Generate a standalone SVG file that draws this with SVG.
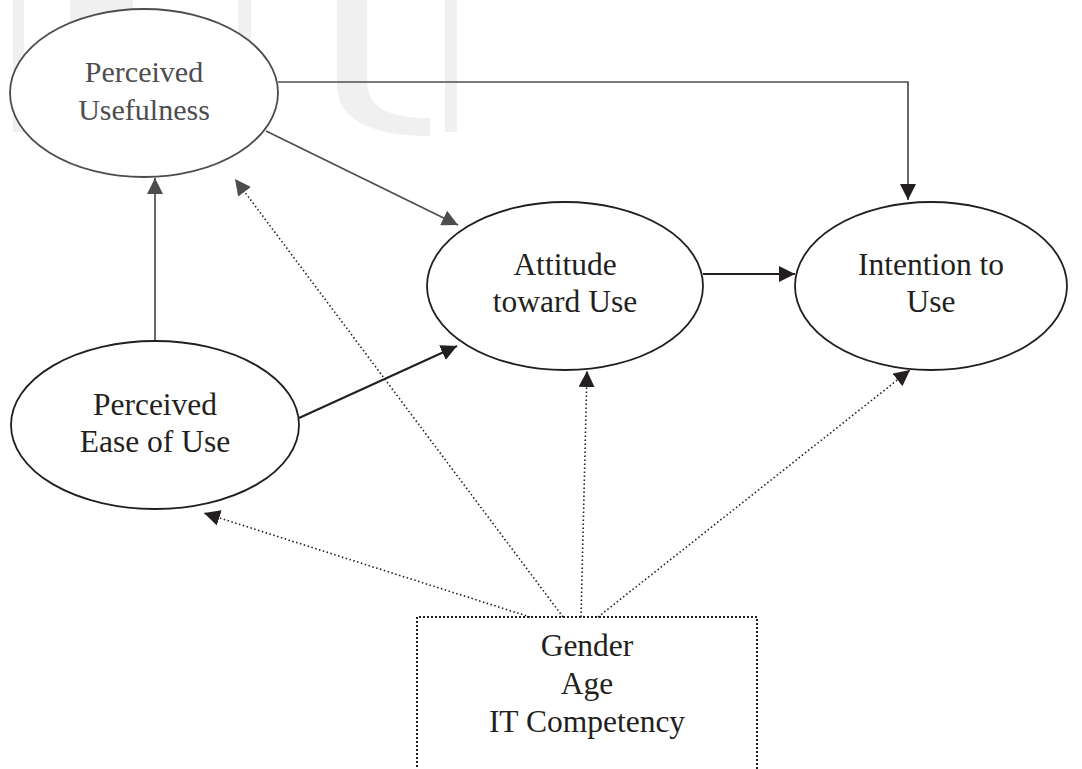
<svg xmlns="http://www.w3.org/2000/svg" width="1082" height="769" viewBox="0 0 1082 769">
  <style>
    .node { fill: #ffffff; stroke: #231f20; stroke-width: 1.8; }
    .node.muted { stroke: #4d4d4f; }
    .label { font-family: "Liberation Serif", "Times New Roman", serif; font-size: 31.5px; fill: #231f20; text-anchor: middle; }
    .label.muted { fill: #4d4d4f; font-size: 30px; }
    .solid { fill: none; stroke: #231f20; stroke-width: 2; }
    .solid.muted { stroke: #4d4d4f; stroke-width: 1.7; }
    .dotted { fill: none; stroke: #231f20; stroke-width: 1.6; stroke-dasharray: 1.5 2.5; }
    .box { fill: none; stroke: #231f20; stroke-width: 2; stroke-dasharray: 2 2; }
    .mark { fill: #f0f0f0; }
  </style>
  <defs>
    <marker id="head" markerUnits="userSpaceOnUse" markerWidth="16" markerHeight="16" viewBox="0 0 16 16" refX="16" refY="8" orient="auto">
      <path d="M0,0 L16,8 L0,16 Z" fill="#231f20"/>
    </marker>
    <marker id="head-muted" markerUnits="userSpaceOnUse" markerWidth="16" markerHeight="16" viewBox="0 0 16 16" refX="16" refY="8" orient="auto">
      <path d="M0,0 L16,8 L0,16 Z" fill="#4d4d4f"/>
    </marker>
  </defs>

  <rect width="1082" height="769" fill="#ffffff"/>

  <!-- faint background lettering -->
  <g id="backdrop">
    <rect class="mark" x="13" y="0" width="11" height="132"/>
    <path class="mark" d="M70,0 H84 V132 H70 Z M84,0 C95,0 125,0 133,0 L133,8 C110,10 92,25 84,50 Z"/>
    <rect class="mark" x="238" y="0" width="13" height="132"/>
    <path class="mark" d="M337,0 H367 V80 C367,108 388,118 430,118 V136 C372,136 337,120 337,85 Z"/>
    <rect class="mark" x="445" y="0" width="12" height="132"/>
  </g>

  <g id="connectors">
    <!-- solid paths -->
    <path class="solid muted" d="M278,82 H908 V200" marker-end="url(#head)"/>
    <path class="solid muted" d="M155,341 V178" marker-end="url(#head-muted)"/>
    <path class="solid muted" d="M266,131 L458,225" marker-end="url(#head-muted)"/>
    <path class="solid" d="M299,418 L457,346" marker-end="url(#head)"/>
    <path class="solid" d="M703,274 H795" marker-end="url(#head)"/>
    <!-- moderator paths -->
    <path class="dotted" d="M530,617 L204,513" marker-end="url(#head)"/>
    <path class="dotted" d="M563,617 L235,179" marker-end="url(#head-muted)"/>
    <path class="dotted" d="M581,617 L587,371" marker-end="url(#head)"/>
    <path class="dotted" d="M598,617 L910,370" marker-end="url(#head)"/>
  </g>

  <g id="perceived-usefulness">
    <ellipse class="node muted" cx="144" cy="93" rx="134" ry="84"/>
    <text class="label muted" x="144" y="82">Perceived</text>
    <text class="label muted" x="144" y="120">Usefulness</text>
  </g>

  <g id="perceived-ease-of-use">
    <ellipse class="node" cx="155" cy="425" rx="144" ry="84"/>
    <text class="label" x="155" y="415">Perceived</text>
    <text class="label" x="155" y="452">Ease of Use</text>
  </g>

  <g id="attitude-toward-use">
    <ellipse class="node" cx="565" cy="286" rx="138" ry="84"/>
    <text class="label" x="565" y="275">Attitude</text>
    <text class="label" x="565" y="312">toward Use</text>
  </g>

  <g id="intention-to-use">
    <ellipse class="node" cx="931" cy="286" rx="136" ry="84"/>
    <text class="label" x="931" y="275">Intention to</text>
    <text class="label" x="931" y="312">Use</text>
  </g>

  <g id="moderators">
    <path class="box" d="M417,775 V617 H757 V775"/>
    <text class="label" x="587" y="656">Gender</text>
    <text class="label" x="587" y="694">Age</text>
    <text class="label" x="587" y="732">IT Competency</text>
  </g>
</svg>
